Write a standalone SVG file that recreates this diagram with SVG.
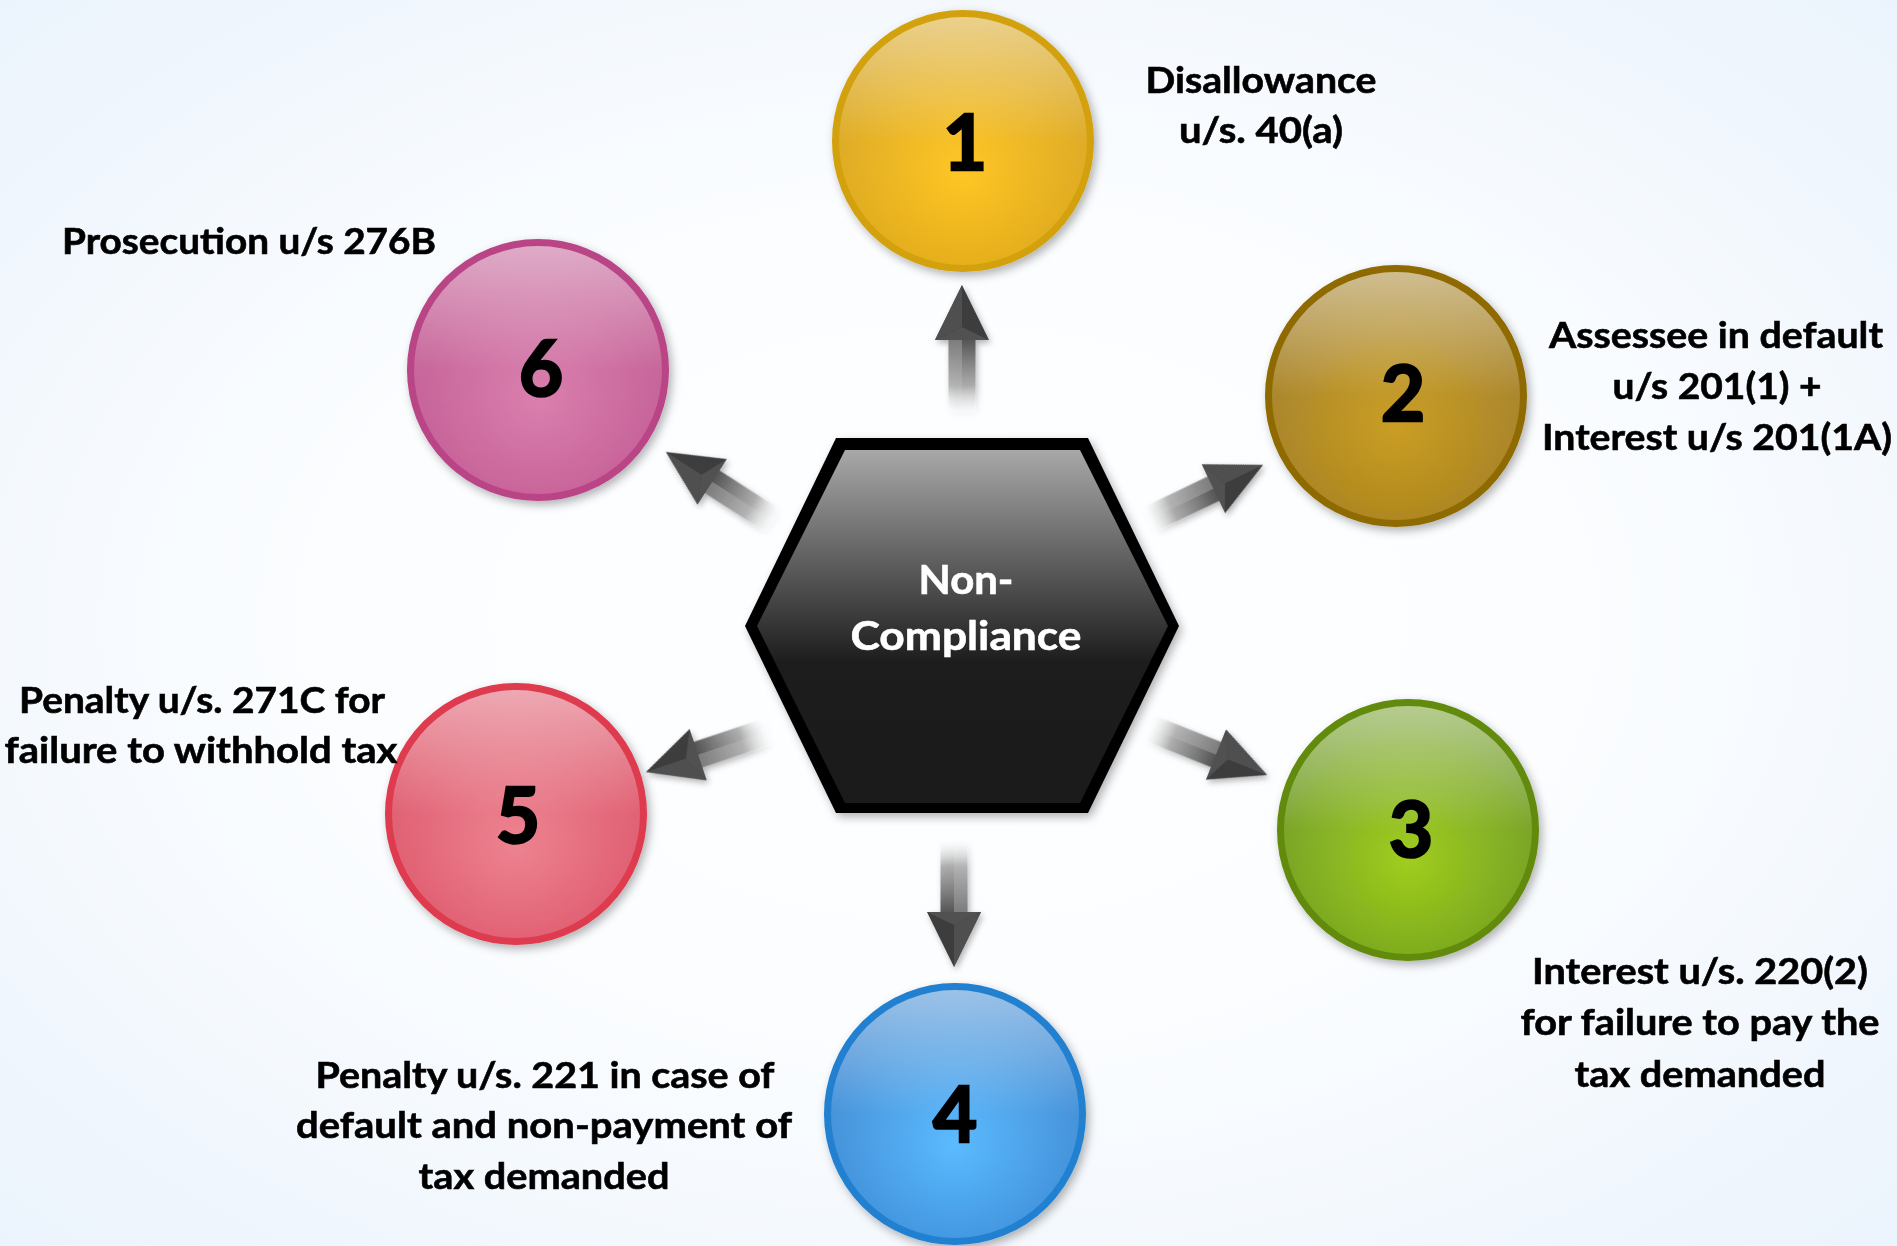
<svg xmlns="http://www.w3.org/2000/svg" width="1897" height="1246" viewBox="0 0 1897 1246">
  <style>
    .lbl { font-family: Lato, "Open Sans", "Liberation Sans", sans-serif; font-weight: 700; font-size: 37px; fill: #000; stroke: #000; stroke-width: 0.6px; text-anchor: middle; }
    .num { font-family: Lato, "Open Sans", "Liberation Sans", sans-serif; font-weight: 700; font-size: 76px; fill: #000; stroke: #000; stroke-width: 2.6px; text-anchor: middle; }
    .hex { font-family: Lato, "Open Sans", "Liberation Sans", sans-serif; font-weight: 700; font-size: 40px; fill: #fff; stroke: #fff; stroke-width: 0.6px; text-anchor: middle; }
    .gloss { fill: url(#gloss); }
  </style>
  <defs>
    <radialGradient id="bg" cx="50%" cy="50%" r="75%">
      <stop offset="0" stop-color="#ffffff"/>
      <stop offset="0.45" stop-color="#fbfdff"/>
      <stop offset="1" stop-color="#e9f2fc"/>
    </radialGradient>
    <linearGradient id="gloss" x1="0" y1="0" x2="0" y2="1">
      <stop offset="0" stop-color="#ffffff" stop-opacity="0.5"/>
      <stop offset="0.5" stop-color="#ffffff" stop-opacity="0.05"/>
      <stop offset="1" stop-color="#ffffff" stop-opacity="0"/>
    </linearGradient>
    <radialGradient id="c1" cx="50%" cy="62%" r="60%">
      <stop offset="0" stop-color="#ffc41a"/>
      <stop offset="1" stop-color="#d6a21c"/>
    </radialGradient>
    <radialGradient id="c2" cx="50%" cy="62%" r="60%">
      <stop offset="0" stop-color="#c89a1c"/>
      <stop offset="1" stop-color="#a07c22"/>
    </radialGradient>
    <radialGradient id="c3" cx="50%" cy="62%" r="60%">
      <stop offset="0" stop-color="#9ccc14"/>
      <stop offset="1" stop-color="#6c9822"/>
    </radialGradient>
    <radialGradient id="c4" cx="50%" cy="62%" r="60%">
      <stop offset="0" stop-color="#55b8ff"/>
      <stop offset="1" stop-color="#3985d0"/>
    </radialGradient>
    <radialGradient id="c5" cx="50%" cy="62%" r="60%">
      <stop offset="0" stop-color="#ec7e8c"/>
      <stop offset="1" stop-color="#dc5266"/>
    </radialGradient>
    <radialGradient id="c6" cx="50%" cy="62%" r="60%">
      <stop offset="0" stop-color="#d87aab"/>
      <stop offset="1" stop-color="#c05890"/>
    </radialGradient>
    <linearGradient id="hexg" x1="0" y1="450" x2="0" y2="803" gradientUnits="userSpaceOnUse">
      <stop offset="0" stop-color="#a8a8a8"/>
      <stop offset="0.6" stop-color="#1d1d1d"/>
      <stop offset="1" stop-color="#1a1a1a"/>
    </linearGradient>
    <linearGradient id="shaft" x1="-128" y1="0" x2="-50" y2="0" gradientUnits="userSpaceOnUse">
      <stop offset="0" stop-color="#ffffff" stop-opacity="0"/>
      <stop offset="0.35" stop-color="#a0a0a0" stop-opacity="0.8"/>
      <stop offset="1" stop-color="#4a4a4a"/>
    </linearGradient>
    <linearGradient id="shafthi" x1="-128" y1="0" x2="-50" y2="0" gradientUnits="userSpaceOnUse">
      <stop offset="0" stop-color="#ffffff" stop-opacity="0"/>
      <stop offset="1" stop-color="#ffffff" stop-opacity="0.25"/>
    </linearGradient>
    <filter id="sh" x="-20%" y="-20%" width="140%" height="140%">
      <feDropShadow dx="3" dy="4" stdDeviation="5" flood-color="#000" flood-opacity="0.3"/>
    </filter>
    <filter id="ash" x="-30%" y="-30%" width="160%" height="160%">
      <feDropShadow dx="2" dy="3" stdDeviation="3" flood-color="#000" flood-opacity="0.3"/>
    </filter>
    <g id="arrow">
      <polygon points="-55,-13.5 -128,-13.5 -128,13.5 -55,13.5" fill="url(#shaft)"/>
      <polygon points="-55,-13.5 -128,-13.5 -128,0 -55,0" fill="url(#shafthi)"/>
      <polygon points="0,0 -55,-27 -55,27" fill="#3c3c3c"/>
      <polygon points="0,0 -55,-27 -42,0" fill="#505050"/>
      <polygon points="-42,0 -55,-27 -55,27" fill="#5a5a5a" opacity="0.7"/>
    </g>
  </defs>

  <rect x="0" y="0" width="1897" height="1246" fill="url(#bg)"/>

  <g id="connectors" filter="url(#ash)">
    <use href="#arrow" transform="translate(962,285) rotate(-90)"/>
    <use href="#arrow" transform="translate(1263,465) rotate(-25.6)"/>
    <use href="#arrow" transform="translate(1267,775) rotate(21.8)"/>
    <use href="#arrow" transform="translate(954,967) rotate(90)"/>
    <use href="#arrow" transform="translate(646,772) rotate(161.6)"/>
    <use href="#arrow" transform="translate(666,452) rotate(-147.2)"/>
  </g>

  <g id="center">
    <polygon points="745,626 836,438 1088,438 1179,626 1088,813 836,813" fill="#000" filter="url(#sh)"/>
    <polygon points="757,626 845,450 1080,450 1168,626 1080,803 845,803" fill="url(#hexg)"/>
    <text class="hex" x="966" y="594" textLength="95" lengthAdjust="spacingAndGlyphs">Non-</text>
    <text class="hex" x="966" y="650" textLength="231" lengthAdjust="spacingAndGlyphs">Compliance</text>
  </g>

  <g id="node1">
    <circle cx="963" cy="141" r="127.5" fill="url(#c1)" stroke="#d2a10a" stroke-width="7" filter="url(#sh)"/>
    <circle class="gloss" cx="963" cy="141" r="124"/>
    <text class="num" x="965" y="170">1</text>
    <text class="lbl" x="1261" y="93" textLength="231" lengthAdjust="spacingAndGlyphs">Disallowance</text>
    <text class="lbl" x="1261" y="143" textLength="164" lengthAdjust="spacingAndGlyphs">u/s. 40(a)</text>
  </g>

  <g id="node2">
    <circle cx="1396" cy="396" r="127.5" fill="url(#c2)" stroke="#8f6b00" stroke-width="7" filter="url(#sh)"/>
    <circle class="gloss" cx="1396" cy="396" r="124"/>
    <text class="num" x="1403" y="421">2</text>
    <text class="lbl" x="1716" y="348" textLength="334" lengthAdjust="spacingAndGlyphs">Assessee in default</text>
    <text class="lbl" x="1717" y="399" textLength="209" lengthAdjust="spacingAndGlyphs">u/s 201(1) +</text>
    <text class="lbl" x="1717" y="450" textLength="350" lengthAdjust="spacingAndGlyphs">Interest u/s 201(1A)</text>
  </g>

  <g id="node3">
    <circle cx="1408" cy="830" r="127.5" fill="url(#c3)" stroke="#628a0c" stroke-width="7" filter="url(#sh)"/>
    <circle class="gloss" cx="1408" cy="830" r="124"/>
    <text class="num" x="1411" y="857">3</text>
    <text class="lbl" x="1700" y="984" textLength="336" lengthAdjust="spacingAndGlyphs">Interest u/s. 220(2)</text>
    <text class="lbl" x="1700" y="1035" textLength="359" lengthAdjust="spacingAndGlyphs">for failure to pay the</text>
    <text class="lbl" x="1700" y="1087" textLength="251" lengthAdjust="spacingAndGlyphs">tax demanded</text>
  </g>

  <g id="node4">
    <circle cx="955" cy="1114" r="127.5" fill="url(#c4)" stroke="#2080d0" stroke-width="7" filter="url(#sh)"/>
    <circle class="gloss" cx="955" cy="1114" r="124"/>
    <text class="num" x="955" y="1142">4</text>
    <text class="lbl" x="545" y="1088" textLength="459" lengthAdjust="spacingAndGlyphs">Penalty u/s. 221 in case of</text>
    <text class="lbl" x="544" y="1138" textLength="496" lengthAdjust="spacingAndGlyphs">default and non-payment of</text>
    <text class="lbl" x="544" y="1189" textLength="251" lengthAdjust="spacingAndGlyphs">tax demanded</text>
  </g>

  <g id="node5">
    <circle cx="516" cy="814" r="127.5" fill="url(#c5)" stroke="#de3a50" stroke-width="7" filter="url(#sh)"/>
    <circle class="gloss" cx="516" cy="814" r="124"/>
    <text class="num" x="518" y="843">5</text>
    <text class="lbl" x="202" y="713" textLength="366" lengthAdjust="spacingAndGlyphs">Penalty u/s. 271C for</text>
    <text class="lbl" x="201" y="763" textLength="393" lengthAdjust="spacingAndGlyphs">failure to withhold tax</text>
  </g>

  <g id="node6">
    <circle cx="538" cy="370" r="127.5" fill="url(#c6)" stroke="#b94487" stroke-width="7" filter="url(#sh)"/>
    <circle class="gloss" cx="538" cy="370" r="124"/>
    <text class="num" x="541" y="396">6</text>
    <text class="lbl" x="249" y="254" textLength="374" lengthAdjust="spacingAndGlyphs">Prosecution u/s 276B</text>
  </g>
</svg>
